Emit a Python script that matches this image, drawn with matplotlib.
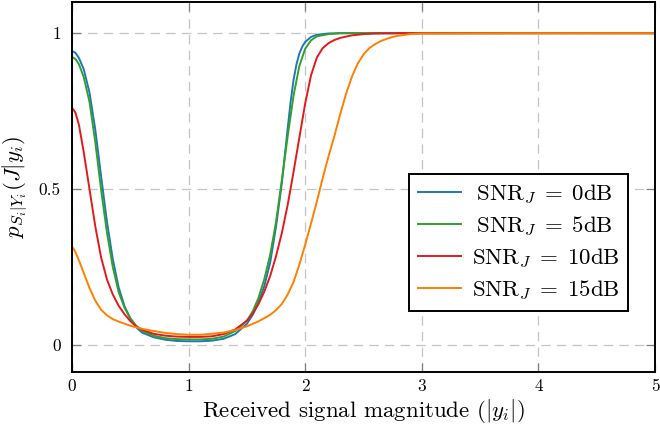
import matplotlib
matplotlib.use("Agg")
import matplotlib.pyplot as plt

plt.rcParams['font.family'] = ['cmr10', 'DejaVu Serif']
plt.rcParams['mathtext.fontset'] = 'cm'
plt.rcParams['axes.formatter.use_mathtext'] = True

# Data
x_0db = [0, 0.03, 0.06, 0.1, 0.15, 0.2, 0.25, 0.3, 0.35, 0.4, 0.45, 0.5, 0.55, 0.6, 0.7, 0.8, 0.9,
         1.0, 1.1, 1.2, 1.3, 1.4, 1.5, 1.55, 1.6, 1.65, 1.7, 1.75, 1.8, 1.85, 1.875, 1.9, 1.925, 1.95,
         1.975, 2.0, 2.05, 2.1, 2.2, 2.3, 2.5, 3.0, 4.0, 5.0]
y_0db = [0.943, 0.937, 0.92, 0.885, 0.81, 0.69, 0.54, 0.395, 0.275, 0.185, 0.125, 0.085, 0.057, 0.04,
         0.025, 0.017, 0.013, 0.012, 0.012, 0.014, 0.02, 0.035, 0.068, 0.097, 0.138, 0.19, 0.265, 0.38,
         0.52, 0.695, 0.78, 0.85, 0.9, 0.935, 0.957, 0.972, 0.988, 0.995, 0.999, 1.0, 1.0, 1.0, 1.0, 1.0]

x_5db = [0, 0.03, 0.06, 0.1, 0.15, 0.2, 0.25, 0.3, 0.35, 0.4, 0.45, 0.5, 0.55, 0.6, 0.7, 0.8, 0.9,
         1.0, 1.1, 1.2, 1.3, 1.4, 1.5, 1.55, 1.6, 1.65, 1.7, 1.75, 1.8, 1.85, 1.9, 1.95, 2.0, 2.05,
         2.1, 2.2, 2.3, 2.5, 3.0, 4.0, 5.0]
y_5db = [0.924, 0.917, 0.9, 0.86, 0.78, 0.65, 0.497, 0.36, 0.25, 0.17, 0.12, 0.086, 0.062, 0.046,
         0.03, 0.022, 0.019, 0.018, 0.018, 0.02, 0.027, 0.045, 0.078, 0.108, 0.152, 0.212, 0.29, 0.395,
         0.53, 0.67, 0.8, 0.895, 0.95, 0.977, 0.99, 0.997, 1.0, 1.0, 1.0, 1.0, 1.0]

x_10db = [0, 0.03, 0.06, 0.1, 0.15, 0.2, 0.25, 0.3, 0.35, 0.4, 0.45, 0.5, 0.55, 0.6, 0.7, 0.8, 0.9,
          1.0, 1.1, 1.2, 1.3, 1.4, 1.5, 1.55, 1.6, 1.65, 1.7, 1.75, 1.8, 1.85, 1.9, 1.95, 2.0, 2.05,
          2.1, 2.15, 2.2, 2.25, 2.3, 2.4, 2.5, 2.6, 2.8, 3.0, 4.0, 5.0]
y_10db = [0.761, 0.745, 0.705, 0.62, 0.5, 0.38, 0.28, 0.21, 0.162, 0.126, 0.099, 0.077, 0.06, 0.049,
          0.036, 0.03, 0.027, 0.026, 0.026, 0.028, 0.035, 0.05, 0.078, 0.1, 0.132, 0.172, 0.222, 0.285,
          0.36, 0.45, 0.555, 0.665, 0.775, 0.865, 0.922, 0.952, 0.968, 0.978, 0.985, 0.993, 0.997,
          0.999, 1.0, 1.0, 1.0, 1.0]

x_15db = [0, 0.02, 0.05, 0.1, 0.15, 0.2, 0.25, 0.3, 0.35, 0.4, 0.5, 0.6, 0.7, 0.8, 0.9, 1.0, 1.1,
          1.2, 1.3, 1.4, 1.5, 1.6, 1.7, 1.75, 1.8, 1.85, 1.9, 1.95, 2.0, 2.05, 2.1, 2.15, 2.2, 2.25,
          2.3, 2.35, 2.4, 2.45, 2.5, 2.55, 2.6, 2.65, 2.7, 2.75, 2.8, 2.9, 3.0, 4.0, 5.0]
y_15db = [0.315, 0.305, 0.28, 0.232, 0.183, 0.142, 0.113, 0.095, 0.083, 0.075, 0.062, 0.052, 0.045,
          0.039, 0.035, 0.033, 0.033, 0.036, 0.04, 0.048, 0.06, 0.076, 0.097, 0.112, 0.132, 0.162, 0.202,
          0.258, 0.322, 0.39, 0.46, 0.535, 0.605, 0.67, 0.74, 0.805, 0.86, 0.902, 0.932, 0.952, 0.965,
          0.975, 0.982, 0.988, 0.992, 0.997, 0.999, 1.0, 1.0]

labels = [r'$\:\mathrm{SNR}_J\;=\;0\mathrm{dB}$', r'$\:\mathrm{SNR}_J\;=\;5\mathrm{dB}$',
          r'$\mathrm{SNR}_J\;=\;10\mathrm{dB}$', r'$\mathrm{SNR}_J\;=\;15\mathrm{dB}$']
colors = ['#1f78b4', '#33a02c', '#e31a1c', '#ff7f00']
xticks = [0, 1, 2, 3, 4, 5]
yticks = [0, 0.5, 1]
yticklabels = ['0', '0.5', '1']

fig = plt.figure(figsize=(6.6, 4.36), dpi=100)
ax = fig.add_axes([72/660, 1 - 372/436, (655 - 72)/660, (372 - 2)/436])

series = [(x_0db, y_0db), (x_5db, y_5db), (x_10db, y_10db), (x_15db, y_15db)]
for (xs, ys), lab, c in zip(series, labels, colors):
    ax.plot(xs, ys, color=c, lw=1.4, label=lab, solid_joinstyle='round')

ax.set_xlim(0, 5)
ax.set_ylim(-0.0865, 1.1)
ax.set_xticks(xticks)
ax.set_xticklabels([str(t) for t in xticks])
ax.set_yticks(yticks)
ax.set_yticklabels(yticklabels)
ax.grid(True, ls=(0, (7.5, 5)), color='#c4c4c4', lw=0.9)
ax.tick_params(direction='in', length=6.5, width=0.9, color='#808080', top=True, right=True,
               labelsize=12.5)
ax.tick_params(axis='y', pad=8)
ax.tick_params(axis='x', pad=5)
for s in ax.spines.values():
    s.set_linewidth(1.4)
    s.set_color('black')

ax.set_xlabel(r'Received signal magnitude ($|y_i|$)', fontsize=16.5, labelpad=2)
ax.set_ylabel(r'$p_{S_i|Y_i}(J|y_i)$', fontsize=16.5, labelpad=6)

leg = ax.legend(loc='center', bbox_to_anchor=(0.766, 0.35), fontsize=16.5, frameon=True,
                fancybox=False, edgecolor='black', framealpha=1, handlelength=1.9,
                borderpad=0.38, labelspacing=0.39, handletextpad=0.45, borderaxespad=0)
leg.get_frame().set_linewidth(1.4)

fig.savefig('out.png', dpi=100)
